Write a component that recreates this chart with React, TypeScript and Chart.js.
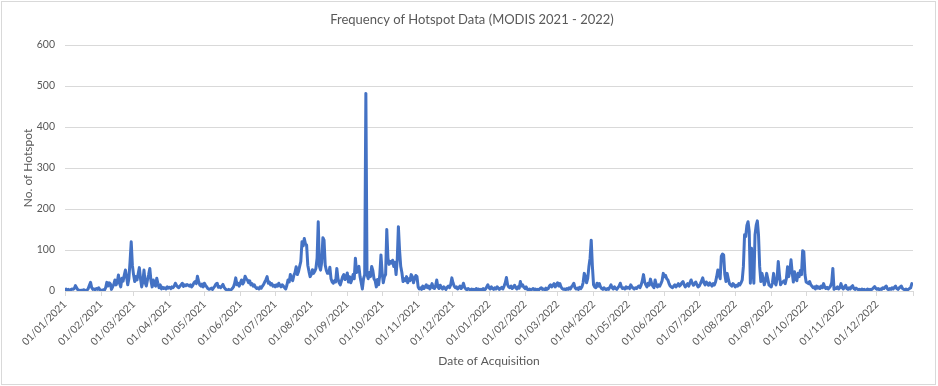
import React, { useEffect, useRef } from "react";
import { Chart, registerables } from "chart.js";

Chart.register(...registerables);

// Daily number of hotspots, one array per month
const jan2021 = [3,5,2,4,2,3,5,4,6,13, 8,3,2,1,2,1,3,2,1,2, 6,14,21,8,4,5,3,6,4,8, 3];
const feb2021 = [2,1,3,2,8,21,12,20,18,4, 10,16,27,15,22,39,18,10,31,24, 38,51,35,15,30,72,120,63];
const mar2021 = [40,23,35,27,42,57,30,10,22,51, 20,12,27,40,55,25,10,27,15,12, 31,18,8,15,5,9,6,8,5,10, 7];
const apr2021 = [9,6,10,8,12,19,14,10,8,12, 15,19,11,15,13,16,14,12,15,10, 14,20,23,18,36,24,15,12,17,10];
const may2021 = [19,14,10,6,4,5,7,4,8,12, 17,19,9,11,8,12,16,9,5,3, 2,4,2,3,6,10,18,32,15,19, 12];
const jun2021 = [20,27,17,22,36,30,27,20,25,15, 18,12,15,9,6,8,5,10,7,12, 16,22,28,35,19,22,15,18,12,14];
const jul2021 = [10,15,12,19,14,10,15,12,8,5, 14,27,22,40,30,25,38,45,59,40, 47,60,72,120,110,128,115,112,63,48, 35];
const aug2021 = [40,52,43,48,55,80,169,60,51,70, 130,124,63,50,43,43,58,30,22,19, 25,22,55,30,20,15,25,35,40,28, 32];
const sep2021 = [44,22,35,20,28,40,30,80,45,55, 60,35,20,5,30,40,482,40,30,45, 35,60,50,30,25,10,28,15,40,88];
const oct2021 = [45,20,35,40,150,80,65,72,68,75, 60,70,40,75,157,100,60,45,23,30, 25,35,20,30,25,40,35,20,30,38, 35];
const nov2021 = [10,5,8,4,12,6,10,15,8,12, 5,10,18,8,6,12,27,10,6,14, 8,5,10,7,4,9,12,8,15,32];
const dec2021 = [20,12,8,10,5,8,12,6,10,19, 9,5,3,6,4,2,5,3,4,2, 6,3,5,2,4,3,6,2,5,10, 15];
const jan2022 = [8,5,10,6,4,8,5,10,7,4, 6,9,5,12,20,33,15,10,8,12, 6,9,14,8,5,10,7,23,12,15, 9];
const feb2022 = [6,10,4,3,5,2,4,6,3,5, 2,4,3,6,8,4,5,3,7,4, 6,12,15,10,14,18,10,15];
const mar2022 = [20,12,18,10,6,4,5,3,6,4, 8,5,10,14,19,8,5,7,4,9, 6,10,20,43,35,20,31,59,80,124, 60];
const apr2022 = [15,10,8,19,12,18,10,6,4,8, 5,3,6,4,9,15,8,5,10,6, 4,8,12,19,10,6,8,5,10,7];
const may2022 = [9,6,15,10,7,5,8,6,10,12, 8,15,25,40,22,15,10,19,14,29, 18,12,8,27,15,10,15,12,18,25, 43];
const jun2022 = [35,38,30,27,18,12,10,8,12,15, 10,14,18,12,15,20,23,15,10,14, 18,12,20,27,19,14,18,22,15,10];
const jul2022 = [12,18,25,32,20,15,22,18,14,20, 16,12,18,15,22,35,51,40,30,85, 90,88,40,23,43,30,18,15,12,18, 15];
const aug2022 = [10,14,12,18,15,20,27,60,137,133, 160,169,145,19,104,60,19,137,160,171, 137,60,23,43,30,15,25,43,30,15, 12];
const sep2022 = [10,20,43,20,15,30,72,40,15,20, 22,25,18,30,59,35,50,76,45,22, 47,30,25,43,35,50,40,98,96,40];
const oct2022 = [22,20,18,23,15,12,8,10,5,12, 7,10,6,12,8,18,10,6,9,5, 8,12,20,55,4,8,6,10,5,8, 18];
const nov2022 = [8,5,10,14,6,4,8,5,10,13, 6,4,7,5,3,4,2,5,3,4, 2,3,5,2,4,3,5,8,11,6];
const dec2022 = [4,6,3,5,4,8,6,10,12,5, 3,6,4,8,5,9,12,6,4,7, 10,12,6,4,3,5,2,4,6,8, 18];

const months = [
  jan2021, feb2021, mar2021, apr2021, may2021, jun2021,
  jul2021, aug2021, sep2021, oct2021, nov2021, dec2021,
  jan2022, feb2022, mar2022, apr2022, may2022, jun2022,
  jul2022, aug2022, sep2022, oct2022, nov2022, dec2022,
];

const monthLabels = [
  "01/01/2021", "01/02/2021", "01/03/2021", "01/04/2021", "01/05/2021", "01/06/2021",
  "01/07/2021", "01/08/2021", "01/09/2021", "01/10/2021", "01/11/2021", "01/12/2021",
  "01/01/2022", "01/02/2022", "01/03/2022", "01/04/2022", "01/05/2022", "01/06/2022",
  "01/07/2022", "01/08/2022", "01/09/2022", "01/10/2022", "01/11/2022", "01/12/2022",
];

const yTicks = [0, 100, 200, 300, 400, 500, 600];

const titleText = "Frequency of Hotspot Data (MODIS 2021 - 2022)";
const xTitle = "Date of Acquisition";
const yTitle = "No. of Hotspot";

const FONT = "Lato, 'Open Sans', sans-serif";
const TEXT = "#595959";

export default function App() {
  const ref = useRef<HTMLCanvasElement | null>(null);

  useEffect(() => {
    document.body.style.margin = "0";
    const canvas = ref.current;
    if (!canvas) return;

    const points: { x: number; y: number }[] = [];
    const monthStarts: number[] = [];
    let day = 0;
    months.forEach((m) => {
      monthStarts.push(day);
      m.forEach((v) => {
        points.push({ x: day, y: v });
        day++;
      });
    });
    const totalDays = day;

    const frame = {
      id: "frame",
      afterLayout(chart: any) {
        const tb = chart.titleBlock;
        if (tb) {
          tb.left = 0;
          tb.right = 944;
        }
      },
      beforeDraw(chart: any) {
        const c = chart.ctx;
        c.save();
        c.fillStyle = "#ffffff";
        c.fillRect(0, 0, chart.width, chart.height);
        c.strokeStyle = "#d9d9d9";
        c.lineWidth = 1;
        c.strokeRect(1.5, 1.5, 934, 383);
        c.restore();
      },
    };

    const chart = new Chart(canvas, {
      type: "line",
      data: {
        datasets: [
          {
            label: "Hotspots",
            data: points,
            borderColor: "#4472C4",
            backgroundColor: "#4472C4",
            borderWidth: 3,
            pointRadius: 0,
            tension: 0,
            borderJoinStyle: "round",
            borderCapStyle: "round",
          },
        ],
      },
      options: {
        responsive: false,
        animation: false,
        events: [],
        layout: { padding: { left: 0, right: 25, top: 0, bottom: 0 } },
        plugins: {
          legend: { display: false },
          tooltip: { enabled: false },
          title: {
            display: true,
            text: titleText,
            color: TEXT,
            font: { family: FONT, size: 13, weight: "normal" },
            padding: { top: 12, bottom: 17.4 },
          },
        },
        scales: {
          x: {
            type: "linear",
            min: 0,
            max: totalDays,
            afterBuildTicks: (scale: any) => {
              scale.ticks = monthStarts.map((v) => ({ value: v })).concat([{ value: totalDays }]);
            },
            afterFit: (scale: any) => {
              scale.height = 95;
            },
            ticks: {
              autoSkip: false,
              minRotation: 45,
              maxRotation: 45,
              color: TEXT,
              padding: 2,
              font: { family: FONT, size: 10.5 },
              callback: (_v: any, i: number) => (i < monthLabels.length ? monthLabels[i] : ""),
            },
            grid: {
              drawOnChartArea: false,
              drawTicks: true,
              tickLength: 5,
              color: "#d9d9d9",
            },
            border: { display: true, color: "#d9d9d9" },
            title: {
              display: true,
              text: xTitle,
              color: TEXT,
              font: { family: FONT, size: 12 },
              padding: { top: 0, bottom: 18 },
            },
          },
          y: {
            min: 0,
            max: 600,
            afterBuildTicks: (scale: any) => {
              const t: any[] = [];
              for (let v = 0; v <= 600; v += 20) t.push({ value: v });
              scale.ticks = t;
            },
            afterFit: (scale: any) => {
              scale.width = 65;
            },
            ticks: {
              color: TEXT,
              padding: 10,
              font: { family: FONT, size: 10.5 },
              callback: (v: any) => (yTicks.includes(v) ? String(v) : null),
            },
            grid: {
              drawTicks: false,
              color: (ctx: any) => (ctx.tick && ctx.tick.value % 100 === 0 ? "#d9d9d9" : "#f2f2f2"),
            },
            border: { display: false },
            title: {
              display: true,
              text: yTitle,
              color: TEXT,
              font: { family: FONT, size: 12 },
              padding: { top: 21, bottom: 0 },
            },
          },
        },
      },
      plugins: [frame],
    } as any);

    return () => chart.destroy();
  }, []);

  return (
    <div style={{ position: "absolute", left: 0, top: 0, width: 938, height: 386 }}>
      <canvas ref={ref} width={938} height={386} style={{ width: 938, height: 386 }} />
    </div>
  );
}
